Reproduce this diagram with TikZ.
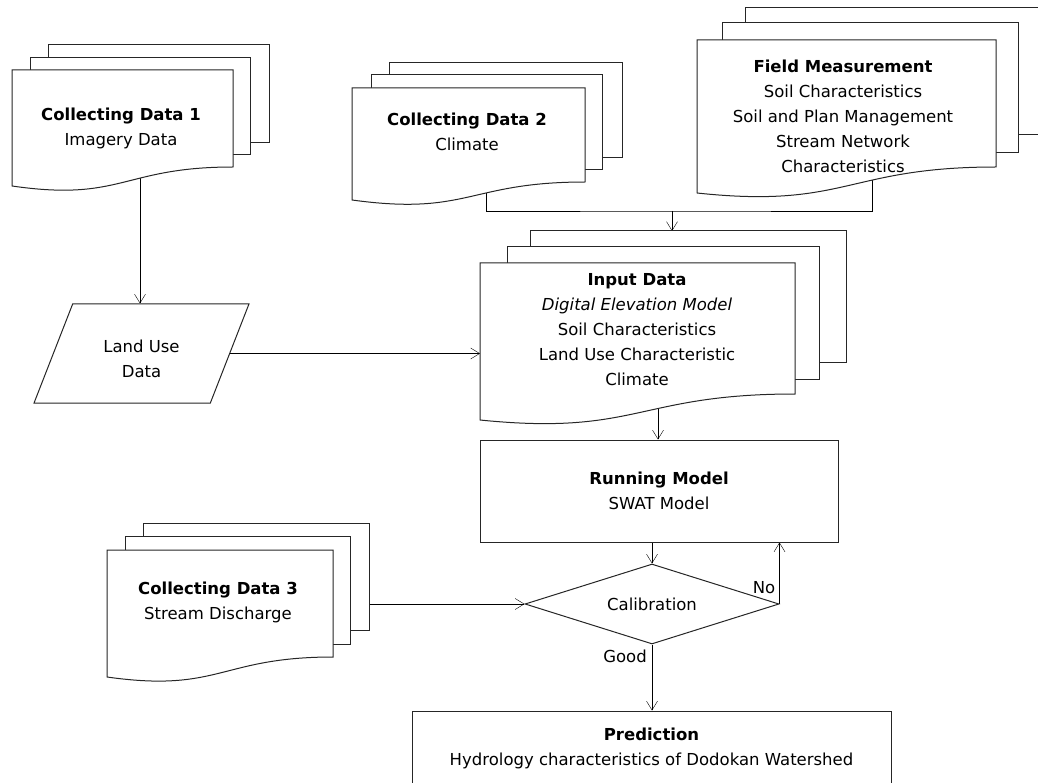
\documentclass[tikz,border=0pt]{standalone}
\usepackage{fontspec}
\setmainfont{DejaVu Sans}
\usetikzlibrary{shapes.geometric,arrows.meta,backgrounds}
\begin{document}
\begin{tikzpicture}[x=1pt,y=-1pt,line width=1pt,draw=black!85,
		font=\fontsize{16.5}{25}\selectfont,
		sheet/.style={draw=black!85,fill=white},
		txt/.style={align=center,inner sep=0},
		box/.style={draw=black!85,fill=white,rectangle,align=center,inner sep=0},
		flow/.style={-{Straight Barb[length=9pt,width=11pt]}}]
		\useasboundingbox (0,0) rectangle (1038,783);
		\draw[sheet] (48,45) rectangle (269,143);
		\draw[sheet] (30,58) rectangle (250,155);
		\draw[sheet] (12,70) -- (233,70) -- (233,167) .. controls (122.5,167) and (122.5,202) .. (12,186) -- cycle;
		\node[txt] (cdA) at (121,128) {\textbf{Collecting Data 1}\\Imagery Data};
		\draw[sheet] (389,63) rectangle (622,158);
		\draw[sheet] (371,75) rectangle (602,170);
		\draw[sheet] (352,88) -- (585,88) -- (585,182) .. controls (468.5,182) and (468.5,216) .. (352,200) -- cycle;
		\node[txt] (cdB) at (467,132) {\textbf{Collecting Data 2}\\Climate};
		\draw[sheet] (745,8) rectangle (1045,135);
		\draw[sheet] (722,23) rectangle (1018,153);
		\draw[sheet] (697,40) -- (996,40) -- (996,167) .. controls (846.5,167) and (846.5,209) .. (697,193) -- cycle;
		\node[txt] (fm) at (843,116.5) {\textbf{Field Measurement}\\Soil Characteristics\\Soil and Plan Management\\Stream Network\\Characteristics};
		\draw[sheet] (530,231) rectangle (846,362);
		\draw[sheet] (507,247) rectangle (819,379);
		\draw[sheet] (480,263) -- (795,263) -- (795,394) .. controls (637.5,394) and (637.5,436) .. (480,420) -- cycle;
		\node[txt] (in) at (637,330) {\textbf{Input Data}\\\textit{Digital Elevation Model}\\Soil Characteristics\\Land Use Characteristic\\Climate};
		\draw[sheet] (143,523) rectangle (369,630);
		\draw[sheet] (125,536) rectangle (350,644);
		\draw[sheet] (107,550) -- (333,550) -- (333,657) .. controls (220,657) and (220,693) .. (107,677) -- cycle;
		\node[txt] (cdC) at (218,602) {\textbf{Collecting Data 3}\\Stream Discharge};
		\node[draw=black!85,fill=white,trapezium,trapezium left angle=66.5,trapezium right angle=113.5,trapezium stretches,
			minimum width=215pt,minimum height=99pt,inner sep=0,align=center] (lu) at (141.5,353.5) {\rule{0pt}{24pt}Land Use\\Data};
		\node[box,minimum width=358pt,minimum height=102pt] (rm) at (659,491) {\textbf{Running Model}\\SWAT Model};
		\node[draw=black!85,fill=white,diamond,aspect=3.2,minimum width=254pt,minimum height=80pt,inner sep=0] (cal) at (652,604) {Calibration};
		\node[box,minimum width=479pt,minimum height=74pt] (pred) at (651.5,748) {\textbf{Prediction}\\Hydrology characteristics of Dodokan Watershed};
		\coordinate (cdA-out) at (140,170);
		\coordinate (cdB-out) at (486,185);
		\coordinate (fm-out) at (872,175);
		\coordinate (join) at (672,211);
		\coordinate (in-top) at (672,231);
		\coordinate (in-left) at (480,354);
		\coordinate (in-out) at (658,400);
		\coordinate (cdC-out) at (369,604);
		\begin{scope}[on background layer]
			\draw[flow] (cdA-out) -- (cdA-out |- lu.north);
			\draw[flow] (lu.right side) -- (lu.right side -| in-left);
			\draw (cdB-out) |- (join) -| (fm-out);
			\draw[flow] (join) -- (in-top);
			\draw[flow] (in-out) -- (in-out |- rm.north);
			\draw[flow] (rm.south -| cal.north) -- (cal.north);
			\draw[flow] (cdC-out) -- (cal.west);
			\draw[flow] (cal.east) -- node[pos=0.27,left,inner sep=4pt] {No} (cal.east |- rm.south);
			\draw[flow] (cal.south) -- node[pos=0.18,left,inner sep=5pt] {Good} (cal.south |- pred.north);
		\end{scope}
	\end{tikzpicture}
\end{document}
